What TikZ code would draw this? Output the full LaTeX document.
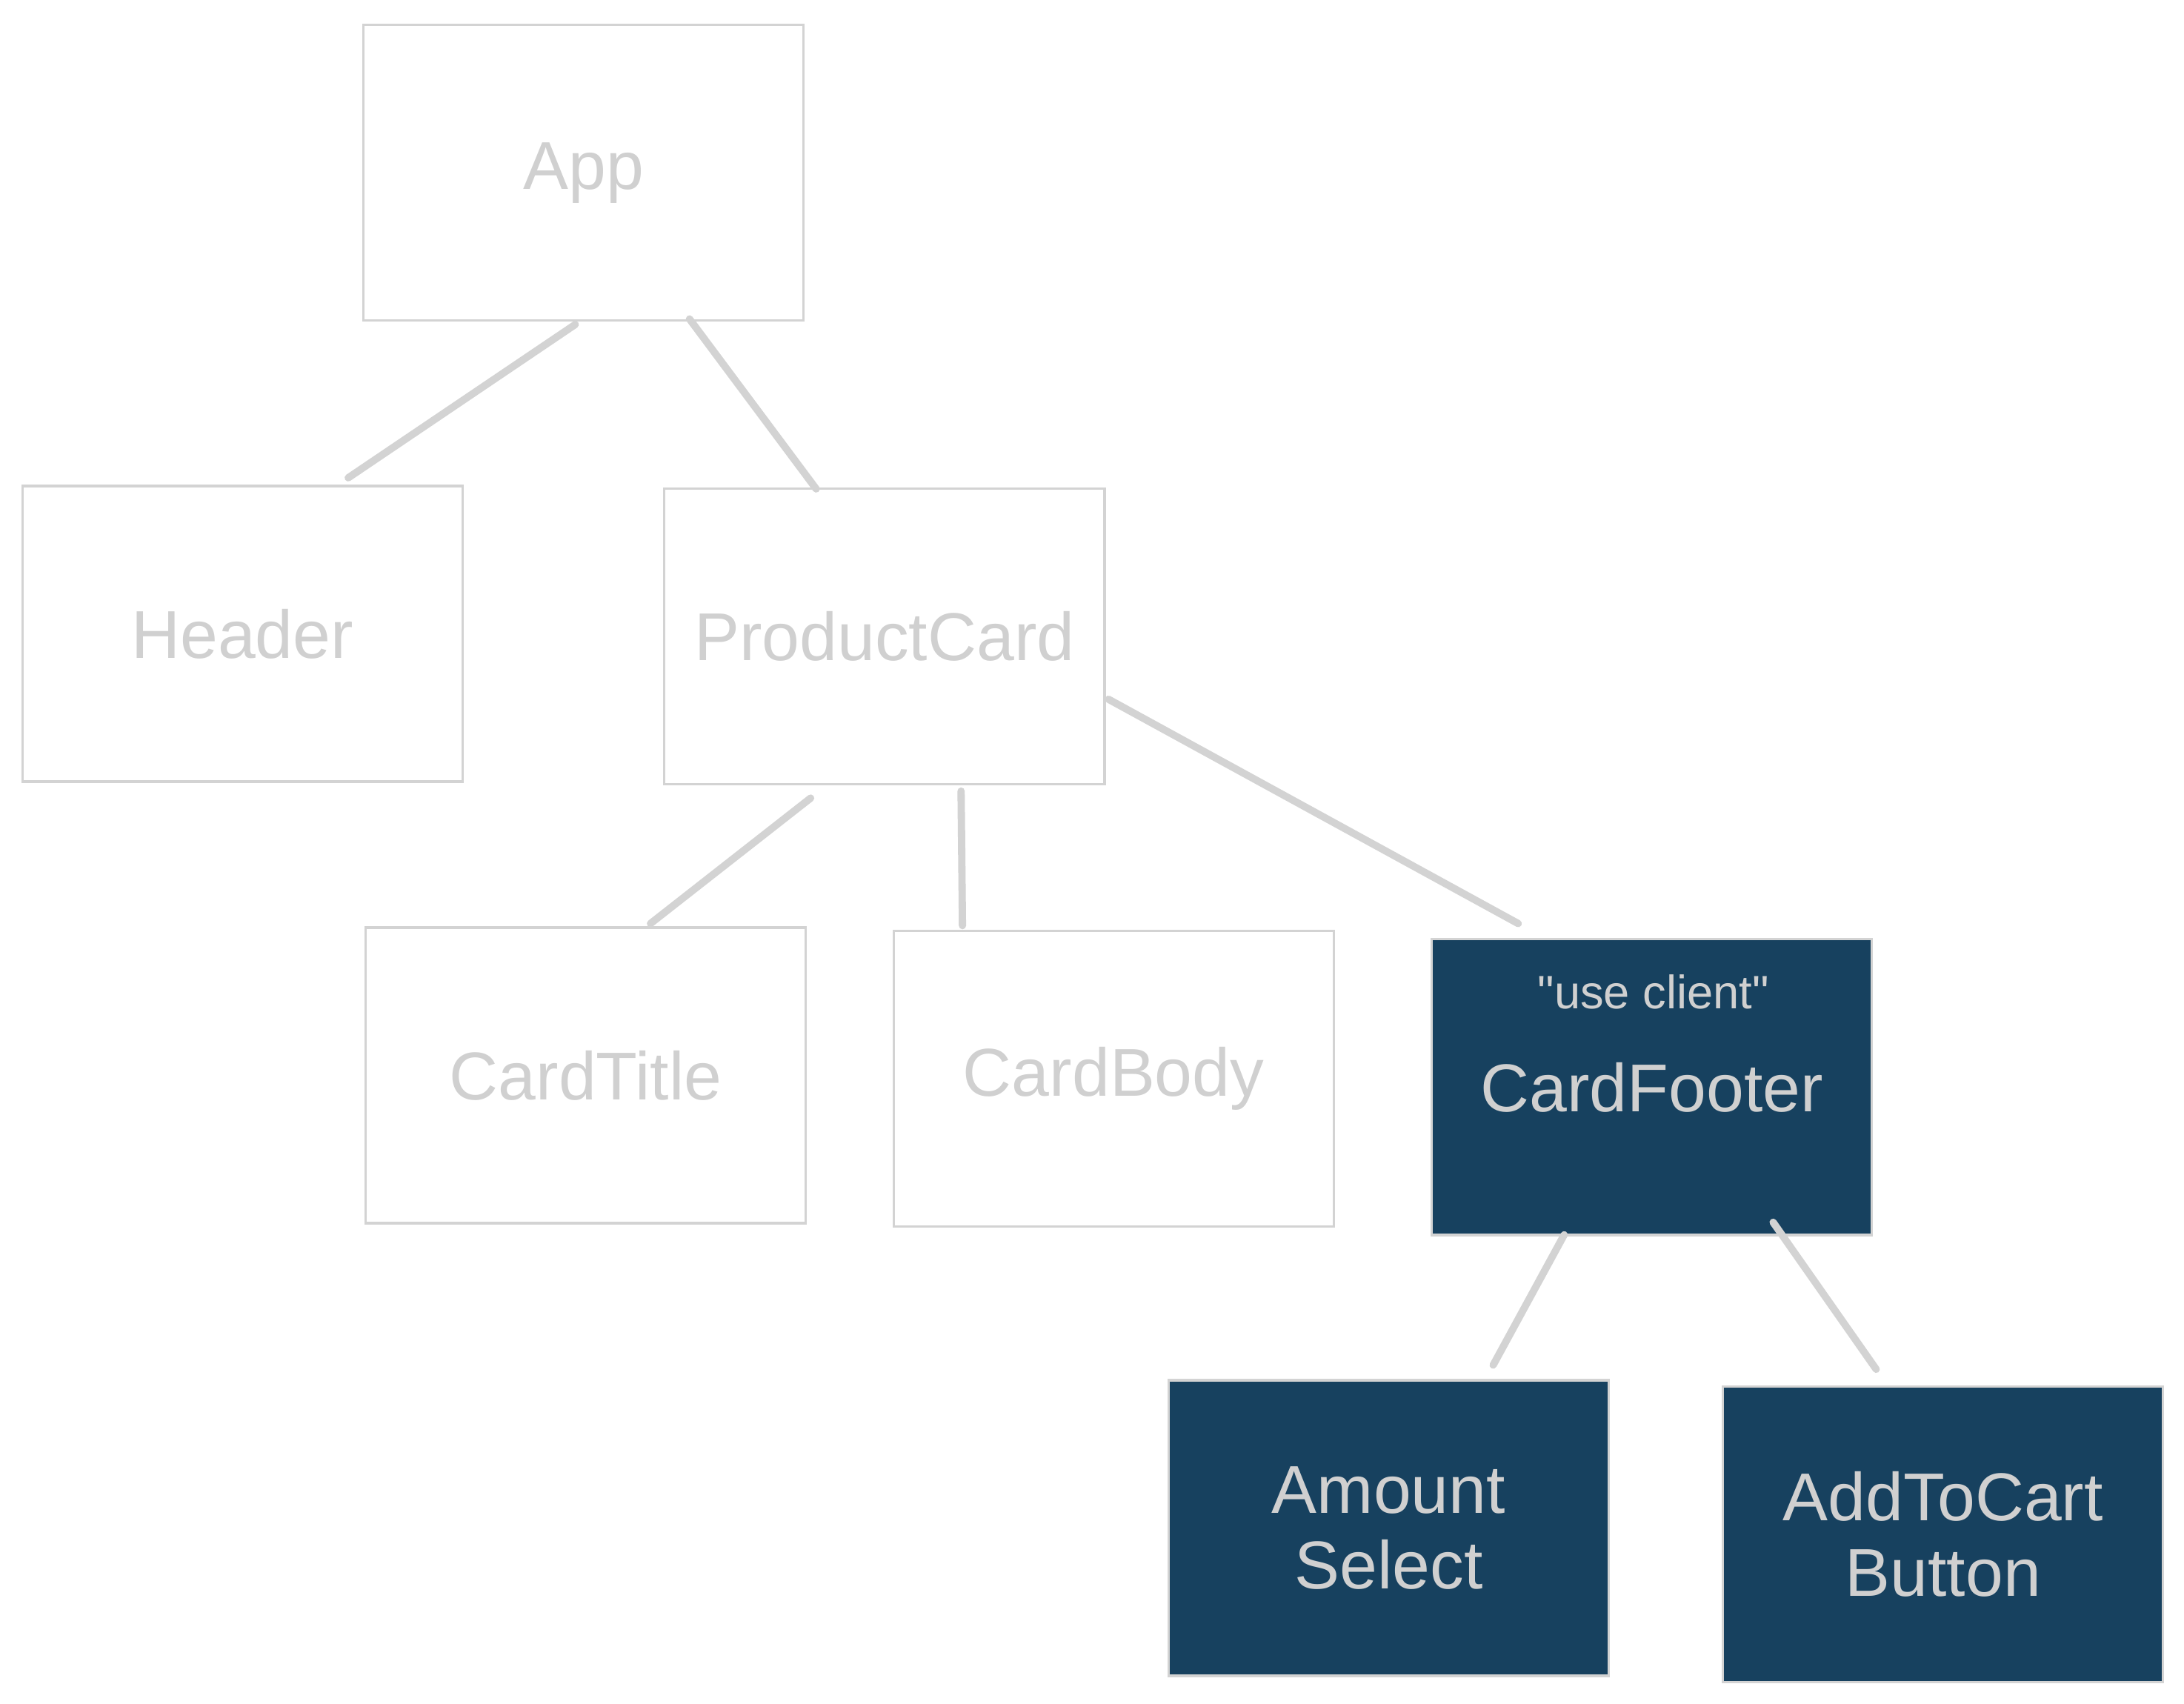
\documentclass[tikz,border=0pt]{standalone}
\usepackage{fontspec}
\setmainfont{Liberation Sans}
\newfontfamily\notefont{Liberation Sans}
\definecolor{edgegray}{HTML}{D3D3D3}
\definecolor{txtgray}{HTML}{D0D0D0}
\definecolor{navy}{HTML}{17415F}
\tikzset{
  comp/.style={rectangle, draw=edgegray, line width=0.9pt, inner sep=0pt,
    minimum width=5.94cm, minimum height=3.99cm, text=txtgray, align=center,
    font=\fontsize{26}{29}\selectfont},
  client/.style={comp, fill=navy},
  note/.style={text=txtgray, inner sep=0pt, font=\notefont\fontsize{18}{20}\selectfont},
  link/.style={draw=edgegray, line width=2.8pt, line cap=round}
}
\begin{document}
\begin{tikzpicture}[x=0.0188cm, y=-0.0188cm]
\useasboundingbox (0,0) rectangle (1568,1223);
\node[comp] (app) at (419,124) {App};
\node[comp] (header) at (174,455) {Header};
\node[comp] (pc) at (635,457) {ProductCard};
\node[comp] (ct) at (420.5,772) {CardTitle};
\node[comp] (cb) at (799.5,774.5) {CardBody};
\node[client] (cf) at (1186,780.5) {CardFooter};
\node[note] (cfnote) at (1187,712) {"use client"};
\node[client] (as) at (997,1097) {Amount\\Select};
\node[client] (ac) at (1395,1101.5) {AddToCart\\Button};
\draw[link] ([shift={(-6,2)}]app.south) -- ([shift={(76,-5)}]header.north);
\draw[link] ([shift={(76,-2)}]app.south) -- ([shift={(-49,1)}]pc.north);
\draw[link] ([shift={(-53,9)}]pc.south) -- ([shift={(46.5,-2)}]ct.north);
\draw[link] ([shift={(55,4)}]pc.south) -- ([shift={(-108.5,-3)}]cb.north);
\draw[link] ([shift={(2,45)}]pc.east) -- ([shift={(-96,-10.5)}]cf.north);
\draw[link] ([shift={(-63,-1)}]cf.south) -- ([shift={(75,-10)}]as.north);
\draw[link] ([shift={(87,-10)}]cf.south) -- ([shift={(-48,-11.5)}]ac.north);
\end{tikzpicture}
\end{document}
